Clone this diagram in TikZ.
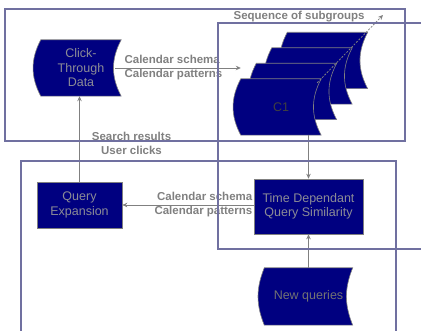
\documentclass[tikz,border=0pt]{standalone}
\usepackage{fontspec}
\setmainfont{Liberation Sans}
\usetikzlibrary{arrows.meta,backgrounds}
\definecolor{navyfill}{RGB}{0,0,128}
\definecolor{framecol}{RGB}{112,112,160}
\definecolor{linecol}{RGB}{128,128,128}
\definecolor{txtcol}{RGB}{140,140,150}
\newcommand{\tapepath}[3]{([shift={#2}]#1.north west) -- ([shift={#2}]#1.north east)
  to[bend right=#3] ([shift={#2}]#1.south east) -- ([shift={#2}]#1.south west)
  to[bend left=#3] ([shift={#2}]#1.north west) -- cycle}
\begin{document}
\begin{tikzpicture}
  [x=1pt,y=-1pt,
   every node/.style={font=\fontsize{12.5}{14.5}\selectfont,text=txtcol,align=center,inner sep=0pt},
   proc/.style={rectangle,fill=navyfill,draw=linecol,line width=.6pt},
   tape/.style={minimum width=80pt,minimum height=56pt},
   tapefill/.style={fill=navyfill,draw=linecol,line width=.6pt},
   lbl/.style={font=\fontsize{11.5}{14}\selectfont\bfseries,text=linecol},
   frame/.style={draw=framecol,line width=1.5pt},
   flow/.style={draw=linecol,line width=.8pt,-{Stealth[length=5pt,width=4.5pt]}}]
  \useasboundingbox (0,0) rectangle (421,331);
  \clip (0,0) rectangle (421,331);

  \node[tape] (ctd) at (81,68) {Click-\\Through\\Data};
  \node[tape] (c1) at (281,107) {\color{black!75}C1};
  \node[proc,minimum width=109pt,minimum height=55pt] (tdqs) at (308.5,206.5) {Time Dependant\\Query Similarity};
  \node[proc,minimum width=85pt,minimum height=46pt] (qe) at (79.5,205) {Query\\Expansion};
  \node[tape,minimum width=88pt,minimum height=57pt] (newq) at (308.5,296.5) {\color{black!55}New queries};
  \coordinate (seqtip) at (383,15);

  \begin{scope}[on background layer]
    \foreach \k in {3,2,1}
      \path[tapefill] \tapepath{c1}{(15.5*\k,-15.5*\k)}{28};
    \foreach \n in {c1,ctd}
      \path[tapefill] \tapepath{\n}{(0,0)}{28};
    \path[tapefill] \tapepath{newq}{(0,0)}{22};
  \end{scope}

  \draw[flow] ([xshift=-6pt]ctd.east) -- (c1.north west |- ctd.east)
    node[lbl,pos=0,anchor=west,align=left,xshift=9pt] {Calendar schema\\Calendar patterns};
  \draw[flow] (tdqs.north |- c1.south) -- (tdqs.north);
  \draw[flow] (newq.north) -- (tdqs.south);
  \draw[flow] (tdqs.west |- qe.east) -- (qe.east)
    node[lbl,pos=0,anchor=east,align=right,xshift=-1pt] {Calendar schema\\Calendar patterns};
  \draw[flow] (qe.north) -- (qe.north |- ctd.south)
    node[lbl,pos=.45,anchor=west,xshift=12pt] {Search results\\User clicks};
  \draw[flow,dash pattern=on 2pt off 1.5pt] ([shift={(-4,4)}]c1.north east) -- (seqtip)
    node[lbl,pos=1,anchor=east,xshift=-18pt,yshift=-2pt] {Sequence of subgroups};

  \draw[frame] (5,9) rectangle (405,141);
  \draw[frame] (218,23) rectangle (430,249);
  \draw[frame] (21,161) rectangle (396,340);
\end{tikzpicture}
\end{document}
